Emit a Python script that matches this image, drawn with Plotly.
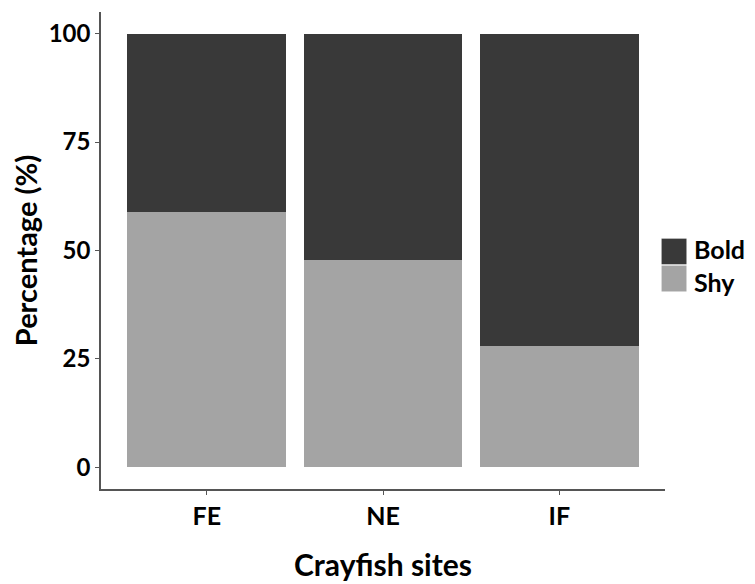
import plotly.graph_objects as go

sites = ["FE", "NE", "IF"]
shy = [58.8, 47.7, 27.9]
bold = [41.2, 52.3, 72.1]
y_ticks = [0, 25, 50, 75, 100]
legend_labels = ["Bold", "Shy"]

FONT = "Lato"
BOLD_COLOR = "#393939"
SHY_COLOR = "#a4a4a4"

fig = go.Figure()

# Shy at the bottom, Bold stacked on top
fig.add_trace(go.Bar(
    x=sites, y=shy, name="Shy",
    marker=dict(color=SHY_COLOR, line=dict(width=0)),
    width=0.9, showlegend=False,
))
fig.add_trace(go.Bar(
    x=sites, y=bold, name="Bold",
    marker=dict(color=BOLD_COLOR, line=dict(width=0)),
    width=0.9, showlegend=False,
))

# legend drawn by hand: big ggplot-style keys
for color, ytop in [(BOLD_COLOR, 0.526), (SHY_COLOR, 0.4695)]:
    fig.add_shape(type="rect", xref="paper", yref="paper",
                  x0=0.993, x1=1.039, y0=ytop - 0.0565, y1=ytop,
                  fillcolor=color, line=dict(color="white", width=1))
fig.add_annotation(text="<br>".join(legend_labels), xref="paper", yref="paper",
                   x=1.047, y=0.469, xanchor="left", yanchor="middle", align="left",
                   showarrow=False,
                   font=dict(family=FONT, size=25, color="black", weight="bold"))

fig.update_layout(
    barmode="stack",
    width=755, height=584,
    margin=dict(l=93, r=98, t=4, b=103),
    paper_bgcolor="white",
    plot_bgcolor="white",
    font=dict(family=FONT, color="black"),
    showlegend=False,
    xaxis=dict(
        range=[-0.6, 2.6],
        showline=True, linecolor="#555", linewidth=1.5,
        ticks="outside", ticklen=4, tickcolor="#555",
        tickfont=dict(family=FONT, size=25, color="black", weight="bold"),
        title=dict(text="Crayfish sites", standoff=26,
                   font=dict(family=FONT, size=30, color="black", weight="bold")),
        showgrid=False, zeroline=False,
    ),
    yaxis=dict(
        range=[-5, 105],
        tickvals=y_ticks,
        showline=True, linecolor="#555", linewidth=1.5,
        ticks="outside", ticklen=4, tickcolor="#555",
        tickfont=dict(family=FONT, size=24, color="black", weight="bold"),
        title=dict(text="Percentage (%)", standoff=9,
                   font=dict(family=FONT, size=29, color="black", weight="bold")),
        showgrid=False, zeroline=False,
    ),
)

fig.write_html("out.html")
